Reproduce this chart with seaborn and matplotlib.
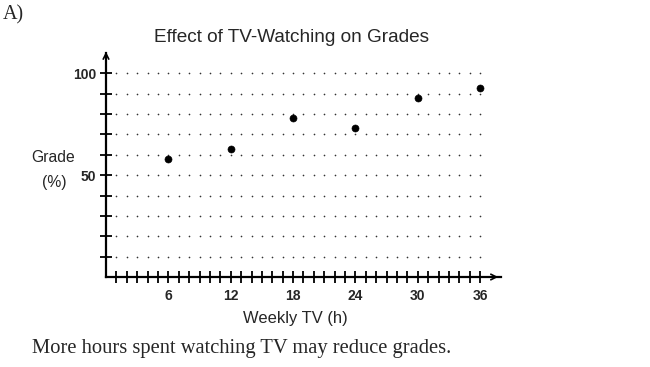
import numpy as np
import pandas as pd
import seaborn as sns
import matplotlib.pyplot as plt
from matplotlib.ticker import FuncFormatter

# data
weekly_tv = [6, 12, 18, 24, 30, 36]
grade = [58, 63, 78, 73, 88, 93]
x_grid = list(range(1, 37))
y_grid = list(range(10, 101, 10))
x_labels = [6, 12, 18, 24, 30, 36]
y_labels = [50, 100]

sns.set_style("white")
plt.rcParams['font.family'] = ['Liberation Sans', 'DejaVu Sans']

fig = plt.figure(figsize=(6.5, 3.67), dpi=100)
ax = fig.add_axes([106 / 650, 90 / 367, 395 / 650, 224 / 367])

# dotted grid
gx, gy = np.meshgrid(x_grid, y_grid)
ax.plot(gx.ravel(), gy.ravel(), ls="none", marker="o", ms=1.2, color="#333333", mew=0)

df = pd.DataFrame({"tv": weekly_tv, "grade": grade})
sns.scatterplot(data=df, x="tv", y="grade", ax=ax, color="black", s=26, edgecolor="black", zorder=3)

ax.set_xlim(0, 38)
ax.set_ylim(0, 110)
for s in ["top", "right"]:
    ax.spines[s].set_visible(False)
for s in ["left", "bottom"]:
    ax.spines[s].set_color("black")
    ax.spines[s].set_linewidth(1.6)

# arrows
ax.annotate("", xy=(38.0, 0), xytext=(36.8, 0), annotation_clip=False,
            arrowprops=dict(arrowstyle="->", color="black", lw=1.2))
ax.annotate("", xy=(0, 112), xytext=(0, 107), annotation_clip=False,
            arrowprops=dict(arrowstyle="->", color="black", lw=1.2))

ax.set_xticks(x_grid)
ax.xaxis.set_major_formatter(FuncFormatter(lambda v, p: f"{int(v)}" if int(v) in x_labels else ""))
ax.set_yticks(y_grid)
ax.yaxis.set_major_formatter(FuncFormatter(lambda v, p: f"{int(v)}" if int(v) in y_labels else ""))
ax.tick_params(axis="both", direction="inout", length=8, width=1.3, color="black",
               labelsize=10, bottom=True, left=True)
ax.tick_params(axis="x", pad=5)
ax.tick_params(axis="y", pad=3)
for lab in ax.get_xticklabels() + ax.get_yticklabels():
    lab.set_fontweight("bold")

ax.set_xlabel("")
ax.set_ylabel("")

fig.text(291 / 650, 1 - 38 / 367, "Effect of TV-Watching on Grades", fontsize=13.7,
         ha="center", va="center")
fig.text(53 / 650, 1 - 158 / 367, "Grade", fontsize=11.3, ha="center", va="center")
fig.text(54 / 650, 1 - 182 / 367, "(%)", fontsize=11.3, ha="center", va="center")
fig.text(295 / 650, 1 - 319 / 367, "Weekly TV (h)", fontsize=11.9, ha="center", va="center")
fig.text(3 / 650, 1 - 15 / 367, "A)", fontsize=14.5, ha="left", va="center",
         family=["Liberation Serif", "DejaVu Serif"])
fig.text(32 / 650, 1 - 348 / 367, "More hours spent watching TV may reduce grades.", fontsize=14.8,
         ha="left", va="center", family=["Liberation Serif", "DejaVu Serif"])

fig.savefig("out.png", dpi=100)
